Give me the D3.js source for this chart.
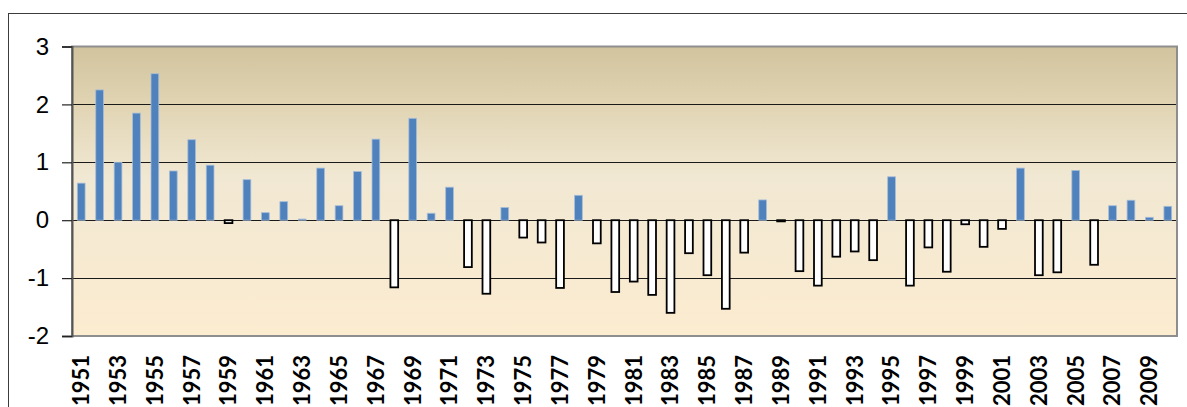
<!DOCTYPE html>
<html><head><meta charset="utf-8">
<script src="https://cdn.jsdelivr.net/npm/d3@7"></script>
<style>
html,body{margin:0;padding:0;background:#fff;overflow:hidden;}
</style></head>
<body>
<svg id="chart" width="1187" height="407"></svg>
<script>
const years = d3.range(1951, 2011).map(String);
const values = [
  0.64, 2.25, 1.00, 1.85, 2.53, 0.85, 1.39, 0.95, -0.05, 0.70,
  0.13, 0.32, 0.02, 0.90, 0.25, 0.84, 1.40, -1.16, 1.76, 0.12,
  0.57, -0.81, -1.27, 0.22, -0.30, -0.385, -1.17, 0.43, -0.40, -1.24,
  -1.06, -1.29, -1.60, -0.57, -0.95, -1.53, -0.56, 0.35, -0.02, -0.88,
  -1.13, -0.63, -0.54, -0.69, 0.75, -1.13, -0.47, -0.89, -0.07, -0.46,
  -0.15, 0.90, -0.95, -0.90, 0.86, -0.77, 0.25, 0.345, 0.05, 0.24
];
const yTicks = [-2, -1, 0, 1, 2, 3];
const xTickLabels = years.filter((d, i) => i % 2 === 0);

const svg = d3.select("#chart");
const L = 72, R = 1177, T = 46.5, B = 336;

// outer chart border
svg.append("rect").attr("x", 8.5).attr("y", 13.5).attr("width", 1200).attr("height", 420)
  .attr("fill", "#fff").attr("stroke", "#3c3c3c").attr("stroke-width", 1);

const defs = svg.append("defs");
const grad = defs.append("linearGradient").attr("id", "bg").attr("x1", 0).attr("y1", 0).attr("x2", 0).attr("y2", 1);
grad.append("stop").attr("offset", "0%").attr("stop-color", "#d1c39d");
grad.append("stop").attr("offset", "20%").attr("stop-color", "#e0d4b3");
grad.append("stop").attr("offset", "45%").attr("stop-color", "#f1e8d3");
grad.append("stop").attr("offset", "100%").attr("stop-color", "#fcecd0");

const x = d3.scaleBand().domain(years).range([L, R]).paddingInner(0.58).paddingOuter(0.29);
const y = d3.scaleLinear().domain([-2, 3]).range([B, T]);

svg.append("rect").attr("x", L).attr("y", T).attr("width", R - L).attr("height", B - T)
  .attr("fill", "url(#bg)");

// gridlines
svg.append("g").selectAll("line").data(yTicks.filter(v => v > -2 && v < 3)).join("line")
  .attr("x1", L).attr("x2", R)
  .attr("y1", d => Math.round(y(d)) + 0.5).attr("y2", d => Math.round(y(d)) + 0.5)
  .attr("stroke", "#1a1a1a").attr("stroke-width", 1);

// bars
const data = years.map((yr, i) => ({ yr, v: values[i] }));
svg.append("g").selectAll("rect").data(data).join("rect")
  .attr("x", d => x(d.yr))
  .attr("width", x.bandwidth())
  .attr("y", d => y(Math.max(0, d.v)))
  .attr("height", d => Math.max(0.5, Math.abs(y(d.v) - y(0))))
  .attr("fill", d => d.v >= 0 ? "#4f81bd" : "#ffffff")
  .attr("stroke", d => d.v >= 0 ? "#a7bdd8" : "#000")
  .attr("stroke-width", d => d.v >= 0 ? 0.8 : 1.8);

// plot border
svg.append("rect").attr("x", L).attr("y", T).attr("width", R - L).attr("height", B - T)
  .attr("fill", "none").attr("stroke", "#8e8e8e").attr("stroke-width", 2);

// y axis
const yAxis = d3.axisLeft(y).tickValues(yTicks).tickSize(10).tickFormat(d => String(d));
const gy = svg.append("g").attr("transform", `translate(${L},0)`).call(yAxis);
gy.select(".domain").attr("stroke", "#555").attr("stroke-width", 2);
gy.selectAll(".tick line").attr("stroke", "#222").attr("stroke-width", 1.2);
gy.selectAll(".tick text").attr("x", -23).attr("font-family", "'Liberation Sans', Arial, sans-serif")
  .attr("font-size", 24).attr("fill", "#000");

// x axis labels
const xAxis = d3.axisBottom(x).tickValues(xTickLabels).tickSize(0);
const gx = svg.append("g").attr("transform", `translate(0,${B})`).call(xAxis);
gx.select(".domain").remove();
gx.selectAll(".tick text")
  .attr("transform", "rotate(-90)")
  .attr("x", -19).attr("y", 0).attr("dy", "0.36em")
  .attr("text-anchor", "end")
  .attr("font-family", "Lato, sans-serif").attr("font-weight", "bold")
  .attr("font-size", 22).attr("fill", "#000");
</script>
</body></html>
